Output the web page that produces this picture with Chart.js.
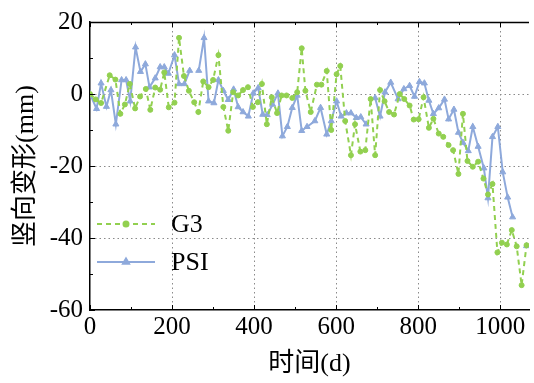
<!DOCTYPE html>
<html><head><meta charset="utf-8">
<script src="https://cdn.jsdelivr.net/npm/chart.js@4/dist/chart.umd.min.js"></script>
<style>html,body{margin:0;padding:0;background:#fff;}#wrap{width:534px;height:383px;position:relative;}</style>
</head><body><div id="wrap"><canvas id="c"></canvas></div>
<script>
// ---- data ----
const g3Days = [0,14,27,48,62,74,85,97,110,122,136,147,159,171,181,192,206,217,229,241,254,264,276,289,300,313,325,337,349,361,373,385,397,409,419,431,443,456,467,479,493,505,516,525,538,553,564,577,588,601,610,622,636,646,659,671,684,695,707,718,729,741,755,766,779,789,801,813,826,837,850,861,874,885,898,909,920,933,946,959,970,981,993,1004,1016,1028,1040,1052,1064];
const g3Values = [0,-1.5,-2.5,5.2,4,-5.5,-2.9,2.8,-4,-0.7,1.4,-4.4,1.8,1.2,6,-3.7,-2.4,15.6,5,0.9,-2.3,-5,3.5,1.9,3.9,10.8,-3.6,-10.2,0.5,-0.4,1.1,1.9,-3.6,-2.3,2.8,-8.4,-0.9,-5.3,-0.4,-0.4,-1.1,0.5,12.7,0.9,-5,2.6,2.6,6.4,-10,5.5,7.8,-7.5,-17,-8.4,-16,-15.6,-1.4,-17,1.1,-2,-5,-5.7,0,-1.4,-3.2,-7.1,-7,-0.9,-9.4,-6.9,-11,-11.9,-14.2,-15.6,-22.2,-5.5,-18.6,-20.2,-18.8,-23.5,-27.9,-25,-44,-41.3,-41.8,-37.8,-42.3,-53.1,-42];
const psiDays = [0,16,27,40,51,63,77,88,98,111,123,135,145,159,171,181,191,206,217,230,243,254,265,278,289,302,313,325,337,350,361,373,386,398,410,421,432,445,458,469,481,493,505,516,529,548,562,577,588,601,612,625,636,649,660,673,684,695,707,719,733,751,765,779,791,803,815,826,837,850,864,874,887,898,909,922,933,946,960,970,981,994,1006,1018,1030,1047,1064];
const psiValues = [0,-4.1,3,-3.5,1.1,-8.4,3.9,3.9,-2,13,6.2,8.3,1.9,4.4,7.5,7.5,5.7,10.8,2.8,2.8,6.5,null,6.5,15.6,-2,-2.5,3.9,0.9,-1.6,1.3,-3.6,-5,-6.2,0.2,1.7,-5.7,-5.8,-2.9,0.2,-11.7,-9.1,-3.8,-0.4,-10.2,-9.1,-7.5,-3.8,-11.2,-7.5,-2,-6.2,-5.3,-5.3,-6.6,-6.4,-8.4,null,-1.1,-6.2,0.5,3.2,-1.4,1.4,2.3,-0.7,3.4,3,-1.8,-5.5,-3.9,-1.5,-7,-4.3,-10.7,-13.5,-15.8,-9.1,-14.6,-20.6,-28.9,-11.9,-9.1,-21.7,-28.7,-34.2,null,-42.2];
const xTicks = [0,200,400,600,800,1000];
const yTicks = [-60,-40,-20,0,20];
const seriesNames = ['G3','PSI'];
const xTitle = '时间(d)';
const yTitle = '竖向变形(mm)';

const GREEN = '#92D050', BLUE = '#8EA9DB';
const SERIF = '"Liberation Serif","Noto Sans CJK SC",serif';

const toPts = (xs, ys) => xs.map((d,i)=>({x:d, y:ys[i]}));

const frame = {
  id:'frame',
  afterDatasetsDraw(chart){
    const {ctx, chartArea:{left,right,top,bottom}, scales:{x,y}} = chart;
    ctx.save();
    ctx.strokeStyle='#000'; ctx.lineWidth=1.5;
    ctx.beginPath(); ctx.moveTo(left, top+0.5); ctx.lineTo(right, top+0.5); ctx.stroke();
    ctx.lineWidth=1;
    for(let v=0; v<=x.max; v+=100){
      const px=Math.round(x.getPixelForValue(v))+0.5, len = v%200===0?5:3;
      ctx.beginPath(); ctx.moveTo(px,bottom); ctx.lineTo(px,bottom-len);
      ctx.moveTo(px,top); ctx.lineTo(px,top+len); ctx.stroke();
    }
    for(let v=y.min; v<=y.max; v+=10){
      const py=Math.round(y.getPixelForValue(v))+0.5, len = v%20===0?5:3;
      ctx.beginPath(); ctx.moveTo(left,py); ctx.lineTo(left+len,py); ctx.stroke();
    }
    ctx.restore();
  }
};

const legendIn = {
  id:'legendIn',
  afterDraw(chart){
    const ctx = chart.ctx;
    const rows = [{y:224},{y:262}];
    chart.data.datasets.forEach((ds,i)=>{
      const yy = rows[i].y;
      ctx.save();
      ctx.strokeStyle = ds.borderColor; ctx.lineWidth = ds.borderWidth;
      ctx.setLineDash(ds.borderDash || []);
      ctx.beginPath(); ctx.moveTo(97,yy); ctx.lineTo(155,yy); ctx.stroke();
      ctx.setLineDash([]);
      ctx.fillStyle = ds.pointBackgroundColor; ctx.strokeStyle = ds.pointBorderColor;
      Chart.helpers.drawPoint(ctx,{pointStyle:ds.pointStyle, radius:ds.pointRadius, rotation:0, borderWidth:1}, 126, yy);
      ctx.fillStyle='#000'; ctx.font='26px '+SERIF; ctx.textBaseline='middle'; ctx.textAlign='left';
      ctx.fillText(ds.label, 171, yy+1);
      ctx.restore();
    });
  }
};

new Chart(document.getElementById('c'), {
  type:'line',
  data:{datasets:[
    {label:seriesNames[0], data:toPts(g3Days,g3Values), borderColor:GREEN, backgroundColor:GREEN,
     borderWidth:2, borderDash:[5,4], pointStyle:'circle', pointRadius:2.5, pointBackgroundColor:GREEN, pointBorderColor:GREEN, pointBorderWidth:1, tension:0, spanGaps:false},
    {label:seriesNames[1], data:toPts(psiDays,psiValues), borderColor:BLUE, backgroundColor:BLUE,
     borderWidth:2, pointStyle:'triangle', pointRadius:3.5, pointBackgroundColor:BLUE, pointBorderColor:BLUE, pointBorderWidth:1, tension:0, spanGaps:false}
  ]},
  options:{
    responsive:true, maintainAspectRatio:false, animation:false,
    layout:{padding:{left:0,top:19,right:0,bottom:0}},
    plugins:{legend:{display:false}, tooltip:{enabled:false}},
    scales:{
      x:{type:'linear', min:0, max:1070,
        afterBuildTicks(s){ s.ticks = xTicks.map(v=>({value:v})); },
        afterFit(s){ s.height = 73; },
        grid:{drawTicks:false, lineWidth:1, color:(c)=> (c.tick && c.tick.value===0) ? 'rgba(0,0,0,0)' : '#8a8a8a'},
        border:{display:true, color:'#000', width:1.5, dash:[1.5,3]},
        ticks:{color:'#000', font:{family:SERIF, size:25}, padding:2, maxRotation:0, autoSkip:false, callback:(v)=>String(v)},
        title:{display:true, text:xTitle, color:'#000', font:{family:SERIF, size:26}, padding:{top:0,bottom:3}}
      },
      y:{type:'linear', min:-60, max:20,
        afterBuildTicks(s){ s.ticks = yTicks.map(v=>({value:v})); },
        afterFit(s){ s.width = 90; },
        grid:{drawTicks:false, lineWidth:1, color:(c)=> (c.tick && (c.tick.value===20 || c.tick.value===-60)) ? 'rgba(0,0,0,0)' : '#8a8a8a'},
        border:{display:true, color:'#000', width:1.5, dash:[1.5,3]},
        ticks:{color:'#000', font:{family:SERIF, size:25}, padding:7, callback:(v)=>String(v)},
        title:{display:true, text:yTitle, color:'#000', font:{family:SERIF, size:26}, padding:{top:11,bottom:0}}
      }
    }
  },
  plugins:[frame, legendIn]
});
</script></body></html>
